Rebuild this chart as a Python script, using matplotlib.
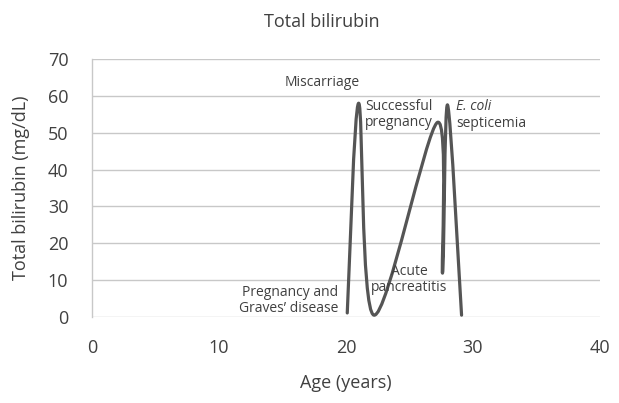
import matplotlib
matplotlib.use("Agg")
import matplotlib.pyplot as plt
import numpy as np
from matplotlib.path import Path
from matplotlib.patches import PathPatch

# data
age = [20.1, 21.0, 22.2, 27.2, 27.6, 28.0, 29.1]
bili = [1.1, 58.0, 0.5, 52.8, 11.9, 57.5, 0.5]

events = ["Miscarriage", "Successful\npregnancy", "E. coli\nsepticemia",
          "Acute\npancreatitis", "Pregnancy and\nGraves\u2019 disease"]
ev_x = [18.1, 21.5, 28.7, 25.0, 19.4]
ev_y = [63.7, 54.9, 54.9, 10.2, 4.5]

xticks = [0, 10, 20, 30, 40]
yticks = [0, 10, 20, 30, 40, 50, 60, 70]

txt = "#404040"
plt.rcParams['font.family'] = ['Open Sans', 'DejaVu Sans']


# smooth line like a spreadsheet "smoothed line" (cubic bezier segments)
def SmoothPath(xs, ys):
    pts = np.column_stack([xs, ys])
    n = len(pts)
    verts = [pts[0]]
    codes = [Path.MOVETO]
    for i in range(n - 1):
        p0 = pts[max(i - 1, 0)]
        p1 = pts[i]
        p2 = pts[i + 1]
        p3 = pts[min(i + 2, n - 1)]
        c1 = p1 + (p2 - p0) / 6.0
        c2 = p2 - (p3 - p1) / 6.0
        verts += [c1, c2, p2]
        codes += [Path.CURVE4] * 3
    return Path(verts, codes)


fig = plt.figure(figsize=(6.19, 4.03), dpi=100)
ax = fig.add_axes([0.1486, 0.2134, 0.8207, 0.6402])
ax.set_xlim(0, 40)
ax.set_ylim(0, 70)

for y in yticks:
    ax.axhline(y, color="#c8c8c8", lw=1.0, zorder=1)

patch = PathPatch(SmoothPath(age, bili), facecolor="none", edgecolor="#555555",
                  lw=2.3, capstyle="round", joinstyle="round", zorder=3)
ax.add_patch(patch)

for label, x, y in zip(events, ev_x, ev_y):
    if label.startswith("Miscarriage"):
        ax.text(x, y, label, ha="center", va="center", fontsize=10, color=txt)
    elif label.startswith("Successful"):
        ax.text(x, y, label, ha="left", va="center", fontsize=10, color=txt, linespacing=1.15)
    elif label.startswith("E. coli"):
        ax.text(x, y + 2.3, "E. coli", ha="left", va="center", fontsize=10, color=txt, style="italic")
        ax.text(x, y - 2.3, "septicemia", ha="left", va="center", fontsize=10, color=txt)
    elif label.startswith("Acute"):
        ax.text(x, y, label, ha="center", va="center", fontsize=10, color=txt, linespacing=1.15)
    else:
        ax.text(x, y, label, ha="right", va="center", fontsize=10, color=txt, linespacing=1.15)

for s in ["top", "right", "bottom"]:
    ax.spines[s].set_visible(False)
ax.spines["left"].set_color("#c8c8c8")
ax.spines["left"].set_linewidth(1.0)

ax.set_xticks(xticks)
ax.set_yticks(yticks)
ax.tick_params(length=0, labelsize=13, labelcolor=txt)
ax.tick_params(axis="y", pad=17)
ax.tick_params(axis="x", pad=16)

ax.set_xlabel("Age (years)", fontsize=13, color=txt, labelpad=12)
ax.set_ylabel("Total bilirubin (mg/dL)", fontsize=13, color=txt, labelpad=13)
fig.text(0.52, 0.945, "Total bilirubin", ha="center", va="center", fontsize=13, color=txt)

fig.savefig("out.png", dpi=100)
